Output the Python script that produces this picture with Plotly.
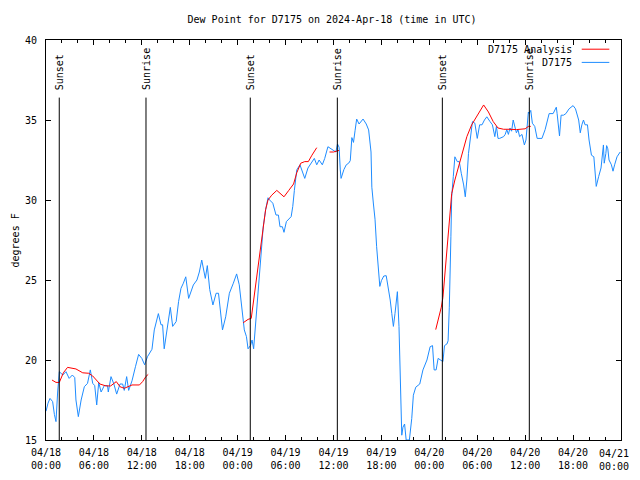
import pandas as pd
import plotly.graph_objects as go

BASE = pd.Timestamp("2024-04-18 00:00")

# D7175 observations: hours since 04/18 00:00 UTC, dew point (F)
obs_hours = [0.0, 0.25, 0.5, 0.83, 1.05, 1.25, 1.46, 1.67, 2.1, 2.5, 2.9, 3.3, 3.6, 3.75, 4.05, 4.4, 4.8, 5.2, 5.55, 5.85,
             6.1, 6.35, 6.6, 6.9, 7.3, 7.7, 7.8, 8.14, 8.5, 8.85, 9.27, 9.6, 9.8, 10.1, 10.35, 10.77, 11.2, 11.6, 12.0, 12.35,
             12.7, 13.27, 13.56, 14.07, 14.4, 14.6, 14.8, 15.1, 15.36, 15.57, 15.86, 16.3, 16.6, 16.9, 17.2, 17.5, 17.86, 18.15, 18.45, 18.9,
             19.2, 19.5, 19.7, 19.95, 20.2, 20.5, 20.9, 21.3, 21.6, 21.9, 22.1, 22.5, 22.96, 23.46, 23.87, 24.2, 24.5, 24.83, 25.1, 25.3,
             25.6, 25.8, 26.0, 26.3, 26.5, 26.9, 27.2, 27.5, 27.8, 28.0, 28.4, 28.8, 29.1, 29.3, 29.6, 29.8, 30.1, 30.7, 30.9, 31.1,
             31.4, 31.8, 32.1, 32.4, 32.8, 33.2, 33.6, 33.9, 34.2, 34.6, 34.9, 35.3, 35.9, 36.3, 36.5, 36.7, 36.85, 36.95, 37.3, 37.6,
             37.9, 38.1, 38.3, 38.5, 38.7, 38.9, 39.2, 39.7, 40.1, 40.4, 40.7, 40.8, 41.0, 41.2, 41.4, 41.6, 41.8, 42.0, 42.3, 42.6,
             42.9, 43.1, 43.3, 43.5, 43.7, 43.9, 44.0, 44.2, 44.3, 44.45, 44.55, 44.7, 44.9, 45.1, 45.5, 45.8, 46.0, 46.3, 46.8, 47.2,
             47.7, 48.1, 48.4, 48.6, 48.85, 49.1, 49.5, 49.7, 49.9, 50.2, 50.35, 50.5, 50.7, 50.8, 51.0, 51.2, 51.5, 51.75, 52.0, 52.3,
             52.5, 52.7, 52.9, 53.1, 53.4, 53.7, 54.0, 54.3, 54.6, 54.9, 55.2, 55.6, 55.9, 56.2, 56.4, 56.6, 56.8, 57.3, 57.5, 57.7,
             57.9, 58.1, 58.3, 58.5, 58.7, 58.9, 59.1, 59.3, 59.6, 59.9, 60.1, 60.3, 60.4, 60.5, 60.7, 60.9, 61.2, 61.5, 62.1, 62.5,
             62.8, 63.0, 63.5, 63.9, 64.0, 64.3, 64.5, 64.8, 65.1, 65.5, 66.0, 66.3, 66.7, 66.9, 67.1, 67.3, 67.5, 67.8, 68.0, 68.3,
             68.6, 68.8, 68.9, 69.2, 69.5, 69.8, 69.9, 70.1, 70.2, 70.35, 70.5, 70.8, 71.0, 71.2, 71.5, 71.9]
obs_values = [16.8, 17.3, 17.6, 17.4, 16.6, 16.15, 18.0, 19.27, 19.06, 19.27, 18.85, 19.06, 18.9, 17.5, 16.46, 17.5, 18.33, 18.54, 19.38, 18.54,
              18.4, 17.19, 18.6, 18.0, 18.4, 18.4, 18.0, 18.96, 18.5, 17.87, 18.5, 18.5, 18.1, 18.96, 18.1, 18.7, 19.58, 20.35, 20.1, 19.7,
              20.2, 20.67, 21.88, 22.9, 22.2, 22.2, 20.7, 21.67, 22.5, 23.29, 22.1, 22.4, 23.65, 24.48, 24.8, 25.2, 23.85, 24.3, 24.69, 25.0,
              25.5, 26.25, 25.66, 25.1, 25.9, 24.4, 23.44, 24.17, 24.17, 22.8, 21.88, 22.7, 24.17, 24.8, 25.38, 24.7, 23.3, 21.88, 21.46, 20.7,
              20.9, 21.25, 20.7, 22.5, 23.75, 26.67, 28.33, 29.38, 30.14, 30.0, 29.8, 29.06, 29.06, 28.33, 28.33, 27.98, 28.65, 28.96, 29.6, 30.6,
              31.88, 32.2, 31.7, 31.35, 32.0, 32.3, 32.6, 32.2, 32.5, 32.2, 32.6, 33.33, 33.1, 33.0, 33.5, 33.3, 31.88, 31.35, 31.9, 32.2,
              32.3, 32.46, 33.9, 33.6, 34.33, 35.06, 34.75, 35.06, 34.75, 34.38, 33.0, 30.8, 29.75, 28.8, 27.08, 26.04, 24.6, 24.96, 25.25, 25.27,
              24.38, 23.75, 22.9, 22.1, 22.9, 23.96, 24.27, 22.1, 20.0, 16.25, 15.3, 15.8, 16.0, 15.0, 15.0, 16.35, 17.8, 18.3, 18.5, 19.38,
              20.0, 20.83, 20.9, 19.38, 19.38, 20.1, 20.0, 19.9, 20.9, 21.0, 21.2, 23.3, 27.7, 30.2, 31.46, 32.7, 32.4, 32.4, 31.67, 30.94,
              30.2, 31.25, 32.9, 33.75, 34.9, 34.8, 33.85, 34.7, 34.7, 35.0, 35.2, 34.9, 34.7, 33.96, 34.6, 33.85, 33.85, 33.96, 34.1, 34.4,
              34.1, 34.5, 34.3, 35.0, 34.6, 34.2, 34.4, 33.96, 34.1, 33.44, 33.75, 34.8, 35.5, 35.4, 35.6, 34.8, 34.6, 33.85, 33.85, 34.4,
              35.0, 35.4, 35.4, 35.8, 35.4, 34.0, 35.3, 35.3, 35.4, 35.7, 35.9, 35.7, 35.0, 34.2, 34.7, 35.0, 34.7, 34.7, 33.75, 32.8,
              32.7, 31.35, 30.85, 31.46, 32.0, 33.44, 32.3, 32.9, 33.4, 33.2, 32.5, 32.2, 31.8, 32.2, 32.7, 33.0]

# D7175 Analysis (None = gap between segments)
ana_hours = [0.75, 1.25, 1.67, 2.17, 2.7, 3.75, 4.6, 5.35, 5.85, 6.25, 6.75, 7.5, 8.1, 8.8, 9.27, 9.8, 10.2, 10.77, 11.7, 12.1, 12.5, 12.8,
             None,
             24.7, 25.3, 25.7, 26.0, 26.3, 26.6, 26.9, 27.2, 27.5, 27.8, 28.26, 28.9, 29.3, 29.8, 30.4, 31.0, 31.4, 31.9, 32.4, 32.85, 33.3, 33.9,
             None,
             35.5, 36.0, 36.7,
             None,
             48.8, 49.5, 49.7, 49.9, 50.2, 50.5, 50.8, 51.2, 51.6, 52.0, 52.7, 53.3, 53.9, 54.8, 55.4, 56.0, 56.6, 57.3, 58.1, 58.9, 60.0, 60.4, 60.7]
ana_values = [18.75, 18.6, 18.6, 19.2, 19.54, 19.44, 19.2, 19.17, 19.0, 18.75, 18.5, 18.38, 18.38, 18.65, 18.33, 18.23, 18.3, 18.44, 18.44, 18.65, 18.96, 19.1,
              None,
              22.33, 22.54, 22.6, 23.75, 24.8, 26.04, 27.3, 28.54, 29.4, 30.0, 30.3, 30.6, 30.4, 30.2, 30.6, 31.0, 31.7, 32.3, 32.4, 32.4, 32.8, 33.27,
              None,
              33.0, 33.0, 33.1,
              None,
              21.9, 23.3, 23.9, 25.0, 26.9, 28.8, 30.4, 31.25, 32.0, 32.7, 33.96, 34.7, 35.2, 35.94, 35.5, 34.9, 34.5, 34.42, 34.42, 34.4, 34.45, 34.6, 34.6]

# Sun events (hours since 04/18 00:00 UTC)
sun_labels = ["Sunset", "Sunrise", "Sunset", "Sunrise", "Sunset", "Sunrise"]
sun_hours = [1.66, 12.52, 25.58, 36.48, 49.63, 60.52]

# X tick labels every 6 hours
tick_hours = [0, 6, 12, 18, 24, 30, 36, 42, 48, 54, 60, 66, 72]
tick_labels = ["04/18<br>00:00", "04/18<br>06:00", "04/18<br>12:00", "04/18<br>18:00",
               "04/19<br>00:00", "04/19<br>06:00", "04/19<br>12:00", "04/19<br>18:00",
               "04/20<br>00:00", "04/20<br>06:00", "04/20<br>12:00", "04/20<br>18:00",
               "04/21<br>00:00"]


def to_time(h):
    if h is None:
        return None
    return BASE + pd.Timedelta(hours=h)


FONT = "DejaVu Sans Mono"
BLUE = "#1E8CFF"
RED = "#FF0000"

fig = go.Figure()
fig.add_trace(go.Scatter(x=[to_time(h) for h in obs_hours], y=obs_values, mode="lines",
                         line=dict(color=BLUE, width=1), name="D7175", showlegend=False,
                         connectgaps=False))
fig.add_trace(go.Scatter(x=[to_time(h) for h in ana_hours], y=ana_values, mode="lines",
                         line=dict(color=RED, width=1), name="D7175 Analysis", showlegend=False,
                         connectgaps=False))

shapes = []
annotations = []
for lab, h in zip(sun_labels, sun_hours):
    t = to_time(h)
    shapes.append(dict(type="line", xref="x", yref="y", x0=t, x1=t, y0=15, y1=36.4,
                       line=dict(color="black", width=1)))
    annotations.append(dict(x=t, y=36.75, xref="x", yref="y", text=lab, textangle=-90,
                            showarrow=False, xanchor="center", yanchor="bottom",
                            font=dict(family=FONT, size=10, color="black")))

# gnuplot-style key (text right, sample line on the right)
key_items = [("D7175 Analysis", RED, 0.977), ("D7175", BLUE, 0.944)]
for text, col, yp in key_items:
    annotations.append(dict(x=0.918, y=yp, xref="paper", yref="paper", text=text, showarrow=False,
                            xanchor="right", yanchor="middle",
                            font=dict(family=FONT, size=10, color="black")))
    shapes.append(dict(type="line", xref="paper", yref="paper", x0=0.9317, x1=0.9797, y0=yp, y1=yp,
                       line=dict(color=col, width=1)))

# y axis title placed like gnuplot's ylabel (kept inside the figure)
annotations.append(dict(x=-0.0661, y=0.5, xref="paper", yref="paper", text="degrees F", textangle=-90,
                        showarrow=False, xanchor="left", yanchor="middle",
                        font=dict(family=FONT, size=10, color="black")))

# last x tick label drawn right-aligned so it stays inside the window
annotations.append(dict(x=1.0174, y=-0.0155, xref="paper", yref="paper", text=tick_labels[-1],
                        showarrow=False, xanchor="right", yanchor="top", align="center",
                        font=dict(family=FONT, size=10, color="black")))
axis_ticktext = tick_labels[:-1] + [""]

# page body has an 8px margin, so the figure is sized to fit the 640x480 window
fig.update_layout(
    width=632, height=464,
    margin=dict(l=38, r=19, t=32, b=32, autoexpand=False),
    paper_bgcolor="white", plot_bgcolor="white",
    font=dict(family=FONT, size=10, color="black"),
    title=dict(text="Dew Point for D7175 on 2024-Apr-18 (time in UTC)", x=0.5127, xanchor="center",
               y=1 - 11 / 464, yanchor="middle", font=dict(family=FONT, size=10, color="black")),
    shapes=shapes, annotations=annotations,
    showlegend=False,
)
fig.update_xaxes(
    range=[BASE, to_time(72)], type="date", automargin=False,
    tickvals=[to_time(h) for h in tick_hours], ticktext=axis_ticktext,
    showgrid=False, zeroline=False, showline=True, linecolor="black", linewidth=1,
    mirror="allticks", ticks="inside", ticklen=5, tickcolor="black", tickwidth=1,
    minor=dict(dtick=2 * 3600 * 1000, tick0=BASE, ticks="inside", ticklen=3, tickcolor="black", showgrid=False),
    tickfont=dict(family=FONT, size=10, color="black"),
    ticklabelstandoff=3, ticklabeloverflow="allow",
)
fig.update_yaxes(
    range=[15, 40], tickvals=[15, 20, 25, 30, 35, 40], automargin=False,
    showgrid=False, zeroline=False, showline=True, linecolor="black", linewidth=1,
    mirror="allticks", ticks="inside", ticklen=5, tickcolor="black", tickwidth=1,
    tickfont=dict(family=FONT, size=10, color="black"),
    ticklabelstandoff=6,
)

fig.write_html("out.html")
